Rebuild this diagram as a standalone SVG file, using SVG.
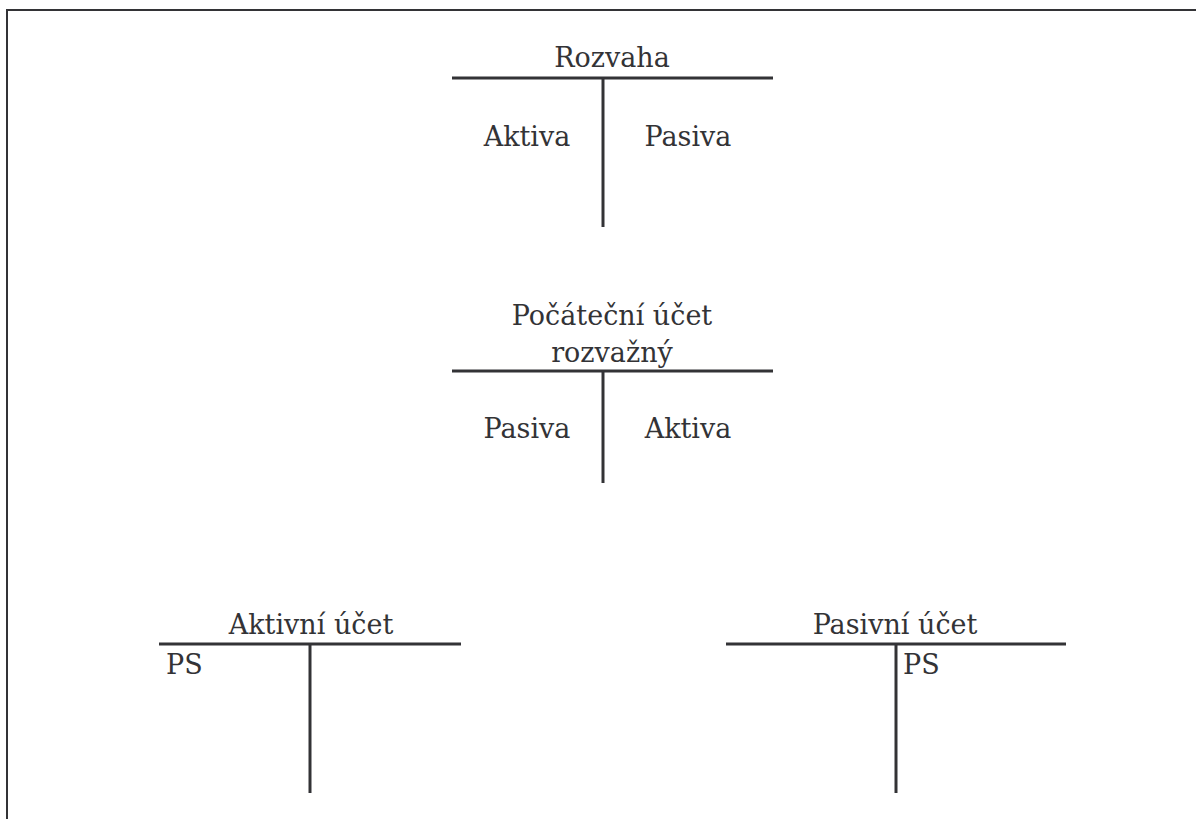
<svg xmlns="http://www.w3.org/2000/svg" width="1196" height="819" viewBox="0 0 1196 819">
<style>
.ln{stroke:#333336;stroke-width:3;fill:none}
.fr{stroke:#333336;stroke-width:2;fill:none}
.c{text-anchor:middle}
</style>
<rect width="1196" height="819" fill="#fff"/>
<path class="fr" d="M7,830 V10 H1200"/>
<g font-family="DejaVu Serif, Liberation Serif, serif" font-size="27" fill="#333336">
<g id="rozvaha">
<line class="ln" x1="452" y1="78" x2="773" y2="78"/>
<line class="ln" x1="603" y1="78" x2="603" y2="227"/>
<text class="c" x="612" y="67">Rozvaha</text>
<text class="c" x="527" y="146">Aktiva</text>
<text class="c" x="688" y="146">Pasiva</text>
</g>
<g id="pocatecni">
<line class="ln" x1="452" y1="371" x2="773" y2="371"/>
<line class="ln" x1="603" y1="371" x2="603" y2="483"/>
<text class="c" x="612" y="325">Počáteční účet</text>
<text class="c" x="612" y="362">rozvažný</text>
<text class="c" x="527" y="438">Pasiva</text>
<text class="c" x="688" y="438">Aktiva</text>
</g>
<g id="aktivni">
<line class="ln" x1="159" y1="644" x2="461" y2="644"/>
<line class="ln" x1="310" y1="644" x2="310" y2="793"/>
<text class="c" x="311" y="634">Aktivní účet</text>
<text x="166" y="674">PS</text>
</g>
<g id="pasivni">
<line class="ln" x1="726" y1="644" x2="1066" y2="644"/>
<line class="ln" x1="896" y1="644" x2="896" y2="793"/>
<text class="c" x="895" y="634">Pasivní účet</text>
<text x="903" y="674">PS</text>
</g>
</g>
<g id="connectors"></g>
</svg>
